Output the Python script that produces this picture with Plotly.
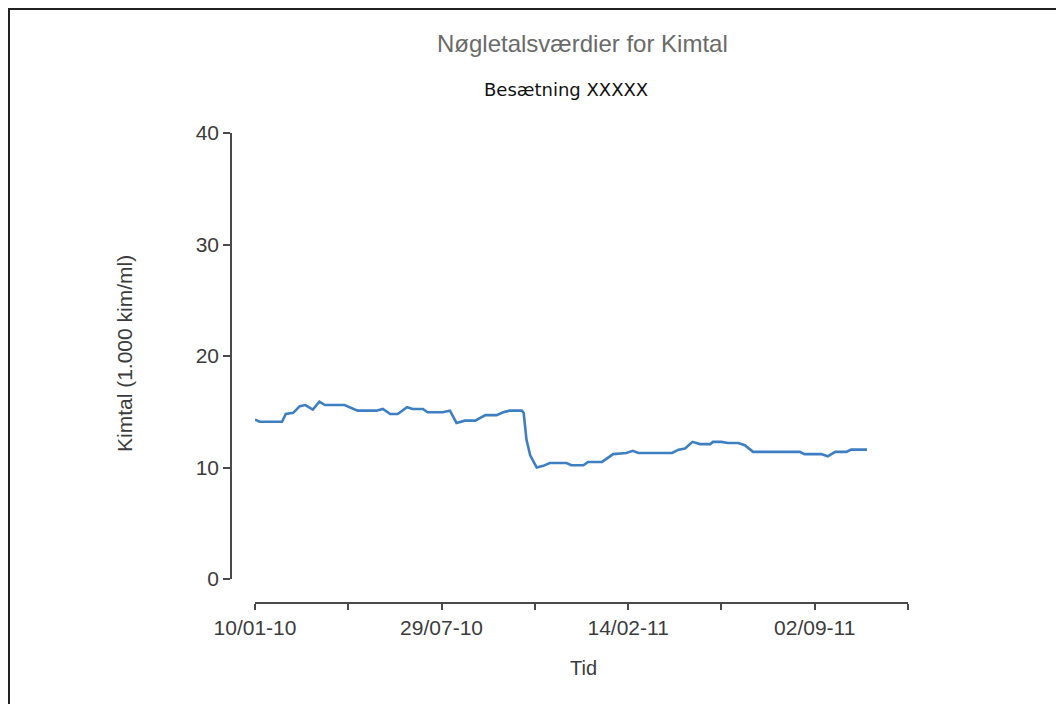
import plotly.graph_objects as go

# ---- data ----
dates = [
    "2010-01-10", "2010-01-15", "2010-02-08", "2010-02-12", "2010-02-20", "2010-02-27",
    "2010-03-05", "2010-03-13", "2010-03-20", "2010-03-26", "2010-04-16", "2010-04-24",
    "2010-04-30", "2010-05-20", "2010-05-27", "2010-06-04", "2010-06-12", "2010-06-22",
    "2010-06-28", "2010-07-09", "2010-07-14", "2010-07-30", "2010-08-07", "2010-08-14",
    "2010-08-23", "2010-09-03", "2010-09-14", "2010-09-26", "2010-10-03", "2010-10-10",
    "2010-10-23", "2010-10-25", "2010-10-28", "2010-11-01", "2010-11-08", "2010-11-15",
    "2010-11-22", "2010-12-10", "2010-12-15", "2010-12-28", "2011-01-02", "2011-01-17",
    "2011-01-29", "2011-02-12", "2011-02-19", "2011-02-25", "2011-04-02", "2011-04-09",
    "2011-04-16", "2011-04-24", "2011-05-02", "2011-05-13", "2011-05-16", "2011-05-25",
    "2011-06-01", "2011-06-12", "2011-06-19", "2011-06-28", "2011-08-17", "2011-08-22",
    "2011-09-09", "2011-09-16", "2011-09-24", "2011-10-06", "2011-10-11", "2011-10-28",
]
kimtal = [
    14.3, 14.1, 14.1, 14.8, 14.9, 15.5,
    15.6, 15.2, 15.9, 15.6, 15.6, 15.3,
    15.1, 15.1, 15.25, 14.8, 14.8, 15.4,
    15.25, 15.25, 14.95, 14.95, 15.1, 14.0,
    14.2, 14.2, 14.7, 14.7, 14.95, 15.1,
    15.1, 14.9, 12.5, 11.1, 10.0, 10.15,
    10.4, 10.4, 10.2, 10.2, 10.5, 10.5,
    11.2, 11.3, 11.5, 11.3, 11.3, 11.6,
    11.7, 12.3, 12.1, 12.1, 12.3, 12.3,
    12.2, 12.2, 12.0, 11.4, 11.4, 11.2,
    11.2, 11.0, 11.4, 11.4, 11.6, 11.6,
]

x_tick_vals = ["2010-01-10", "2010-04-20", "2010-07-29", "2010-11-06",
               "2011-02-14", "2011-05-25", "2011-09-02", "2011-12-11"]
x_tick_text = ["10/01-10", "", "29/07-10", "", "14/02-11", "", "02/09-11", ""]
x_range = ["2010-01-10", "2011-12-11"]

y_tick_vals = [0, 10, 20, 30, 40]
y_range = [0, 40]

title_text = "Nøgletalsværdier for Kimtal"
subtitle_text = "Besætning XXXXX"
y_title = "Kimtal (1.000 kim/ml)"
x_title = "Tid"

# ---- layout geometry (page pixels; the page body has an 8px margin) ----
OFF = 8
W, H = 1064 - OFF, 704 - OFF
L, R, T, B = 231, 908, 133, 603  # page coordinates of the plotting box
pw, ph = R - L, B - T


def px(x):
    return (x - L) / pw


def py(y):
    return (B - y) / ph


FONT = "Liberation Sans, Arial, sans-serif"
AXIS_COL = "#4a4a4a"
TEXT_COL = "#3c3c3c"

fig = go.Figure()
fig.add_trace(go.Scatter(
    x=dates, y=kimtal, mode="lines",
    line=dict(color="#3d7fc1", width=2.6),
    showlegend=False, hoverinfo="x+y",
))

fig.update_layout(
    width=W, height=H,
    margin=dict(l=L - OFF, r=(W + OFF) - R, t=T - OFF, b=(H + OFF) - B, pad=0),
    paper_bgcolor="white", plot_bgcolor="white",
    showlegend=False,
    xaxis=dict(
        type="date", range=x_range,
        domain=[px(255), 1], anchor="free", position=0,
        tickmode="array", tickvals=x_tick_vals, ticktext=x_tick_text,
        ticks="outside", ticklen=6, tickwidth=1.5, tickcolor=AXIS_COL,
        showline=True, linecolor=AXIS_COL, linewidth=1.5,
        showgrid=False, zeroline=False,
        tickfont=dict(family=FONT, size=21, color=TEXT_COL),
    ),
    yaxis=dict(
        range=y_range,
        domain=[py(579), 1], anchor="free", position=0,
        tickmode="array", tickvals=y_tick_vals,
        ticks="outside", ticklen=7, tickwidth=1.5, tickcolor=AXIS_COL,
        showline=True, linecolor=AXIS_COL, linewidth=1.5,
        showgrid=False, zeroline=False,
        tickfont=dict(family=FONT, size=21, color=TEXT_COL),
    ),
    annotations=[
        dict(text=title_text, x=px(582), y=py(44), xref="paper", yref="paper",
             showarrow=False, xanchor="center", yanchor="middle",
             font=dict(family=FONT, size=24, color="#6a6a6a")),
        dict(text=subtitle_text, x=px(566), y=py(90), xref="paper", yref="paper",
             showarrow=False, xanchor="center", yanchor="middle",
             font=dict(family="DejaVu Sans, Verdana, sans-serif", size=18, color="#111111")),
        dict(text=y_title, x=px(124), y=py(354), xref="paper", yref="paper",
             showarrow=False, xanchor="center", yanchor="middle", textangle=-90,
             font=dict(family=FONT, size=21, color=TEXT_COL)),
        dict(text=x_title, x=px(583), y=py(668), xref="paper", yref="paper",
             showarrow=False, xanchor="center", yanchor="middle",
             font=dict(family=FONT, size=20, color=TEXT_COL)),
    ],
    shapes=[
        dict(type="line", xref="paper", yref="paper",
             x0=px(OFF), x1=px(1070), y0=py(OFF + 1), y1=py(OFF + 1),
             line=dict(color="#222222", width=2)),
        dict(type="line", xref="paper", yref="paper",
             x0=px(OFF + 1), x1=px(OFF + 1), y0=py(OFF), y1=py(710),
             line=dict(color="#222222", width=2)),
    ],
)

fig.write_html("out.html")
